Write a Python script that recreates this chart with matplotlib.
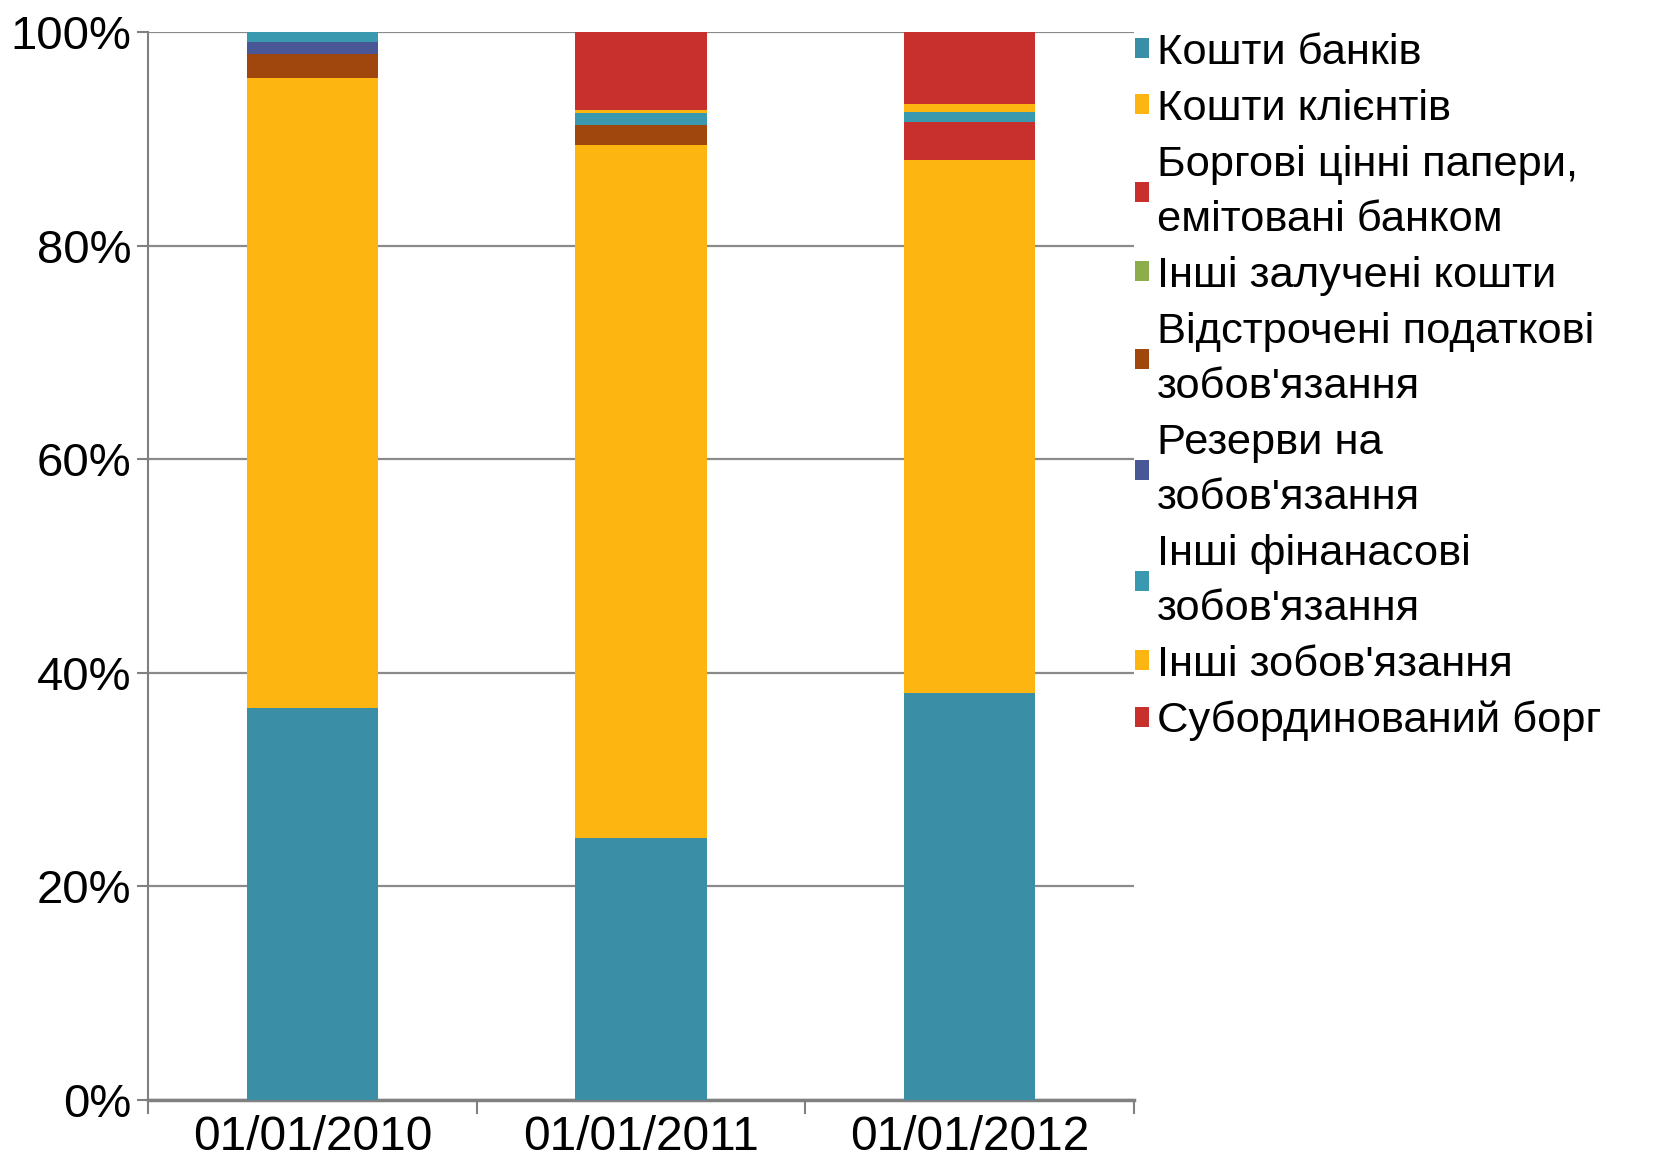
import matplotlib.pyplot as plt
import numpy as np

plt.rcParams['font.family'] = ['Liberation Sans', 'DejaVu Sans']

dates = ['01/01/2010', '01/01/2011', '01/01/2012']

# shares of liabilities, % (bottom to top of the stack)
koshty_bankiv = [36.7, 24.5, 38.1]
koshty_klientiv = [59.0, 64.9, 49.9]
borgovi_papery = [0.0, 0.0, 3.6]
inshi_zalucheni = [0.0, 0.0, 0.0]
vidstrocheni = [2.2, 1.9, 0.0]
rezervy = [1.2, 0.0, 0.0]
inshi_finansovi = [0.9, 1.1, 0.9]
inshi_zobov = [0.0, 0.3, 0.8]
subordynovanyi = [0.0, 7.3, 6.7]

series = [koshty_bankiv, koshty_klientiv, borgovi_papery, inshi_zalucheni,
          vidstrocheni, rezervy, inshi_finansovi, inshi_zobov, subordynovanyi]
labels = ['Кошти банків', 'Кошти клієнтів',
          'Боргові цінні папери,\nемітовані банком', 'Інші залучені кошти',
          'Відстрочені податкові\nзобов\'язання', 'Резерви на\nзобов\'язання',
          'Інші фінанасові\nзобов\'язання', 'Інші зобов\'язання',
          'Субординований борг']
colors = ['#3A8FA7', '#FDB611', '#C8302E', '#8DAD4C', '#A0470E',
          '#4A5796', '#3A99AE', '#FDB611', '#C8302E']

fig = plt.figure(figsize=(16.54, 11.62), dpi=100)
ax = fig.add_axes([0.0895, 0.0534, 0.5961, 0.9191])

x = np.arange(len(dates))
bottom = np.zeros(len(dates))
for vals, lab, col in zip(series, labels, colors):
    ax.bar(x, vals, 0.4, bottom=bottom, color=col, label=lab, zorder=3)
    bottom += np.array(vals)

ax.set_xlim(-0.5, 2.5)
ax.set_ylim(0, 100)
ax.set_yticks(np.arange(0, 101, 20))
ax.set_yticklabels(['%d%%' % v for v in range(0, 101, 20)])
ax.yaxis.grid(True, color='#8a8a8a', lw=1.6, zorder=0)

ax.set_xticks(x)
ax.set_xticklabels(dates)
ax.set_xticks([-0.5, 0.5, 1.5, 2.5], minor=True)
ax.tick_params(axis='x', which='major', length=0, labelsize=34.5, pad=11)
ax.tick_params(axis='x', which='minor', length=10, width=1.5, color='#808080')
ax.tick_params(axis='y', length=8, width=1.5, color='#808080', labelsize=34, pad=4)

for s in ['top', 'right']:
    ax.spines[s].set_visible(False)
ax.spines['left'].set_color('#808080')
ax.spines['left'].set_linewidth(1.5)
ax.spines['bottom'].set_color('#808080')
ax.spines['bottom'].set_linewidth(2.5)

leg = ax.legend(loc='upper left', bbox_to_anchor=(0.686, 0.972),
                bbox_transform=fig.transFigure, frameon=False, fontsize=31.3,
                handlelength=0.32, handleheight=0.32, handletextpad=0.2,
                labelspacing=0.37, borderpad=0, borderaxespad=0)
for t in leg.get_texts():
    t.set_linespacing(1.48)

fig.savefig('out.png', dpi=100)
